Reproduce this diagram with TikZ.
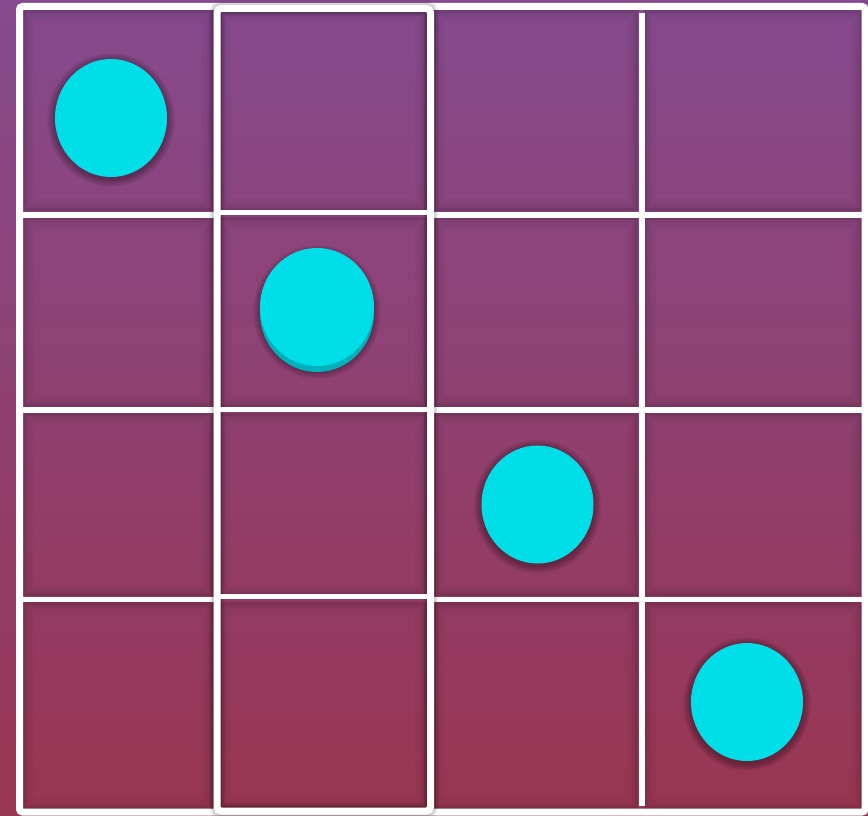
\documentclass[tikz,border=0pt]{standalone}
\begin{document}
\begin{tikzpicture}[x=1pt,y=-1pt]
\definecolor{bgtop}{RGB}{134,74,142}
\definecolor{bgbot}{RGB}{153,54,82}
\definecolor{dot}{RGB}{0,222,232}
\definecolor{dotdark}{RGB}{0,176,186}
\tikzset{
  gridline/.style={white,line width=5.5pt},
  frameline/.style={white,line width=7pt,rounded corners=3pt},
  cellshade/.style={black,line width=3pt},
}
\useasboundingbox (0,0) rectangle (868,816);
\shade[top color=bgtop,bottom color=bgbot] (0,0) rectangle (868,816);
% inset shadows of the cells
\foreach \xa/\xb in {20/216,216/430,430/641,641/865}{
  \foreach \ya/\yb in {7/214,214/410,410/599,599/812}{
    \foreach \d/\o in {4.5/0.16,7.5/0.09,10.5/0.05,13.5/0.025}{
      \draw[cellshade,opacity=\o] (\xa+\d,\ya+\d) rectangle (\xb-\d,\yb-\d);
    }
  }
}
% circle shadows and circles
\foreach \cx/\cy in {111/118,317/310,537.5/504.5,747/702}{
  \foreach \i in {1,...,8}{
    \fill[black,opacity=0.045] (\cx,\cy+2) ellipse [x radius=56+\i, y radius=59+\i];
  }
}
\fill[dot] (111,118) ellipse [x radius=56, y radius=59];
\fill[dotdark] (317,313) ellipse [x radius=57, y radius=59];
\fill[dot] (317,307) ellipse [x radius=57, y radius=59];
\fill[dot] (537.5,504.5) ellipse [x radius=56, y radius=59];
\fill[dot] (747,702) ellipse [x radius=56, y radius=59];
% outer frame
\draw[frameline] (19.5,6.5) rectangle (865,812);
% grid lines, columns 1, 3, 4
\foreach \y in {215,410,599.5}{
  \draw[gridline] (22,\y) -- (214,\y);
  \draw[gridline] (433,\y) -- (862,\y);
}
\draw[gridline] (642,13) -- (642,806);
% highlighted column: shadow then lines
\foreach \w/\o in {16/0.05,13/0.07,10/0.09}{
  \draw[black,opacity=\o,line width=\w pt,rounded corners=4pt] (217,8.5) rectangle (430.5,811);
}
\foreach \y in {212.5,409.5,596.5}{
  \draw[gridline] (219,\y) -- (428,\y);
}
\draw[frameline,rounded corners=4pt] (217,8.5) rectangle (430.5,811);
\end{tikzpicture}
\end{document}
